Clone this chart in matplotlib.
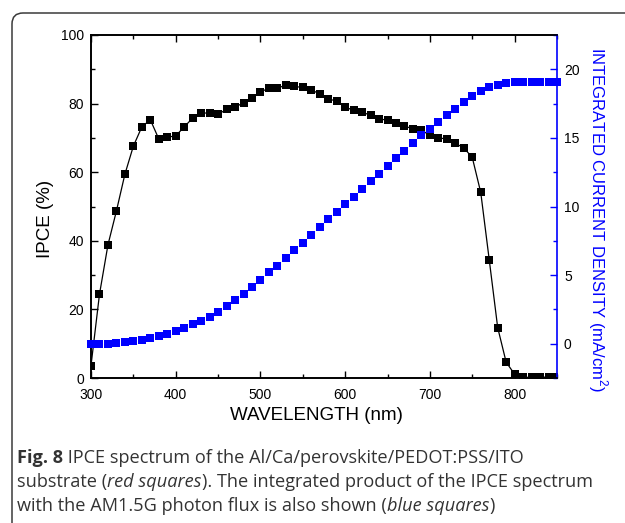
import matplotlib
matplotlib.use("Agg")
import matplotlib.pyplot as plt
from matplotlib.patches import FancyBboxPatch
from matplotlib.ticker import MultipleLocator

wavelength = list(range(300, 851, 10))
ipce = [3.6, 24.4, 38.8, 48.7, 59.4, 67.6, 73.2, 75.3, 69.7, 70.2,
        70.6, 73.2, 75.8, 77.2, 77.3, 76.9, 78.3, 78.9, 80.3, 81.5,
        83.4, 84.5, 84.5, 85.4, 85.0, 84.7, 84.0, 82.8, 81.3, 80.8,
        79.0, 78.0, 77.5, 76.6, 75.4, 75.3, 74.3, 73.4, 72.7, 72.2,
        70.8, 70.1, 69.6, 68.4, 67.1, 64.3, 54.1, 34.5, 14.7, 4.6,
        1.1, 0.2, 0.2, 0.2, 0.3, 0.3]
jsc = [0.0, 0.0, 0.0, 0.05, 0.1, 0.2, 0.29, 0.44, 0.58, 0.73,
       0.92, 1.17, 1.41, 1.68, 1.94, 2.31, 2.72, 3.18, 3.62, 4.13,
       4.64, 5.2, 5.69, 6.25, 6.83, 7.36, 7.92, 8.5, 9.06, 9.62,
       10.18, 10.71, 11.27, 11.86, 12.39, 12.97, 13.51, 14.07, 14.65, 15.18,
       15.64, 16.15, 16.66, 17.11, 17.59, 18.05, 18.44, 18.68, 18.88, 19.0,
       19.05, 19.05, 19.05, 19.05, 19.05, 19.05]

x_label = "WAVELENGTH (nm)"
y_label = "IPCE (%)"
y2_label = "INTEGRATED CURRENT DENSITY (mA/cm$^2$)"

plt.rcParams['font.family'] = ['Liberation Sans', 'DejaVu Sans']
plt.rcParams['mathtext.fontset'] = 'custom'
plt.rcParams['mathtext.rm'] = 'Liberation Sans'

W, H = 625, 523
fig = plt.figure(figsize=(W / 100, H / 100), dpi=100)
ax = fig.add_axes([91 / W, 1 - 378 / H, (557 - 91) / W, (378 - 35) / H])
ax2 = ax.twinx()

ax.plot(wavelength, ipce, color='black', lw=0.9, marker='s', ms=6.2,
        mec='black', mew=0, mfc='black', zorder=3)
ax2.plot(wavelength, jsc, ls='none', marker='s', ms=6.2, mfc='#0000ff',
         mec='#0000ff', mew=0, clip_on=False, zorder=3)

ax.set_xlim(300, 850)
ax.set_ylim(0, 100)
ax2.set_ylim(-2.5, 22.5)

ax.xaxis.set_major_locator(MultipleLocator(100))
ax.xaxis.set_minor_locator(MultipleLocator(50))
ax.yaxis.set_major_locator(MultipleLocator(20))
ax.yaxis.set_minor_locator(MultipleLocator(10))
ax2.yaxis.set_major_locator(MultipleLocator(5))
ax2.yaxis.set_minor_locator(MultipleLocator(2.5))

ax.tick_params(axis='both', which='major', direction='in', length=5, width=1,
               labelsize=10, pad=5, top=True, right=False)
ax.tick_params(axis='both', which='minor', direction='in', length=3, width=1,
               top=True, right=False)
ax.tick_params(axis='x', pad=7.5)
ax2.tick_params(axis='y', which='major', direction='in', length=5, width=1,
                labelsize=10, pad=5, color='#0000ff', labelcolor='black')
ax2.tick_params(axis='y', which='minor', direction='in', length=3, width=1,
                color='#0000ff')

for s in ['left', 'bottom', 'top']:
    ax.spines[s].set_linewidth(1.2)
    ax2.spines[s].set_linewidth(1.2)
ax.spines['right'].set_visible(False)
ax2.spines['right'].set_color('#0000ff')
ax2.spines['right'].set_linewidth(1.2)

fig.text(316 / W, 1 - 415 / H, x_label, ha='center', va='center', fontsize=13.5)
fig.text(46 / W, 1 - 219 / H, y_label, ha='center', va='center', rotation=90,
         fontsize=13.5)
fig.text(598 / W, 1 - 220 / H, y2_label, ha='center', va='center',
         rotation=-90, fontsize=12, color='#0000ff')

# frame
frame = FancyBboxPatch((0.12, -1.0), 10, (H - 13) / 100 + 1.0,
                       boxstyle="round,pad=0,rounding_size=0.11",
                       transform=fig.dpi_scale_trans, fill=False,
                       edgecolor='#3a3a3a', lw=1.1)
fig.add_artist(frame)

# caption
cap_color = '#333333'
cap_fs = 13.1
lines = [
    [("Fig. 8", 'bold', 'normal'), (" IPCE spectrum of the Al/Ca/perovskite/PEDOT:PSS/ITO", 'normal', 'normal')],
    [("substrate (", 'normal', 'normal'), ("red squares", 'normal', 'italic'),
     ("). The integrated product of the IPCE spectrum", 'normal', 'normal')],
    [("with the AM1.5G photon flux is also shown (", 'normal', 'normal'),
     ("blue squares", 'normal', 'italic'), (")", 'normal', 'normal')],
]
baselines = [463, 487, 511]
fig.canvas.draw()
renderer = fig.canvas.get_renderer()
for parts, yb in zip(lines, baselines):
    x = 17
    for txt, wt, st in parts:
        t = fig.text(x / W, 1 - yb / H, txt, ha='left', va='baseline',
                     fontsize=cap_fs, fontweight=wt, fontstyle=st,
                     family=['Open Sans', 'DejaVu Sans'], color=cap_color)
        bb = t.get_window_extent(renderer=renderer)
        x += bb.width

fig.savefig('out.png', dpi=100)
